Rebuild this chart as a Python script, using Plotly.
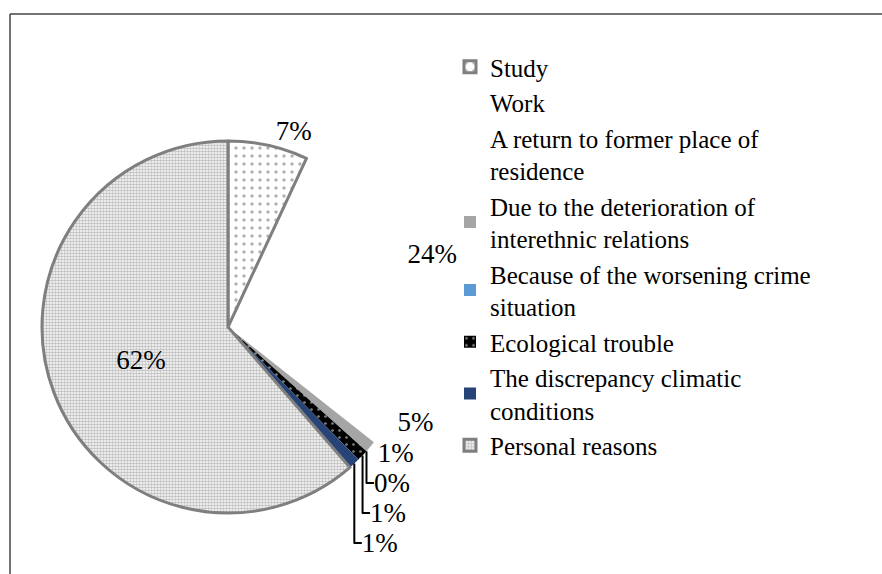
import plotly.graph_objects as go

categories = [
    "Study",
    "Work",
    "A return to former place of<br>residence",
    "Due to the deterioration of<br>interethnic relations",
    "Because of the worsening crime<br>situation",
    "Ecological trouble",
    "The discrepancy climatic<br>conditions",
    "Personal reasons",
]
values = [7, 24, 5, 1, 0, 1, 1, 62]

NONE = "rgba(255,255,255,0)"
colors = ["#ffffff", NONE, NONE, "#a5a5a5", "#5b9bd5", "#000000", "#264478", "#ffffff"]
line_colors = ["#7f7f7f", NONE, NONE, "#a5a5a5", "#5b9bd5", "#000000", "#264478", "#7f7f7f"]
line_widths = [3, 0, 0, 0, 0, 0, 0, 3]
pattern_shapes = [".", "", "", "", "", ".", "", "."]
pattern_fg = ["#666666", NONE, NONE, "#a5a5a5", "#5b9bd5", "#ffffff", "#264478", "#808080"]
pattern_size = [8, 8, 8, 8, 8, 7, 8, 3]
pattern_sol = [0.15, 0.3, 0.3, 0.3, 0.3, 0.12, 0.3, 0.6]

SERIF = "Liberation Serif, Times New Roman, DejaVu Serif, serif"
W, H = 882, 574
cx, cy, r = 228, 327, 186

fig = go.Figure(
    go.Pie(
        labels=categories,
        values=values,
        sort=False,
        direction="clockwise",
        rotation=0,
        texttemplate="%{value}%",
        textposition=["outside"] * 7 + ["inside"],
        insidetextorientation="horizontal",
        textfont=dict(family=SERIF, size=27, color="#000000"),
        marker=dict(
            colors=colors,
            line=dict(color=line_colors, width=line_widths),
            pattern=dict(
                shape=pattern_shapes,
                fgcolor=pattern_fg,
                bgcolor=colors,
                size=pattern_size,
                solidity=pattern_sol,
                fillmode="overlay",
            ),
        ),
        hoverinfo="label+value",
        domain=dict(
            x=[(cx - r) / W, (cx + r) / W],
            y=[(H - cy - r) / H, (H - cy + r) / H],
        ),
    )
)

fig.update_layout(
    width=W,
    height=H,
    margin=dict(l=0, r=0, t=0, b=0),
    paper_bgcolor="#ffffff",
    plot_bgcolor="#ffffff",
    font=dict(family=SERIF),
    showlegend=True,
    legend=dict(
        x=450 / W,
        xanchor="left",
        y=1 - 44 / H,
        yanchor="top",
        font=dict(family=SERIF, size=25, color="#000000"),
        bgcolor="rgba(0,0,0,0)",
        tracegroupgap=0,
    ),
    shapes=[
        dict(type="line", xref="paper", yref="paper", x0=10 / W, x1=1, y0=1 - 14 / H, y1=1 - 14 / H,
             line=dict(color="#444444", width=1.5)),
        dict(type="line", xref="paper", yref="paper", x0=10 / W, x1=10 / W, y0=0, y1=1 - 14 / H,
             line=dict(color="#444444", width=1.5)),
    ],
)

fig.write_html(
    "out.html",
    config={"displayModeBar": False},
    post_script="document.body.style.margin='0';document.body.style.overflow='hidden';",
)
